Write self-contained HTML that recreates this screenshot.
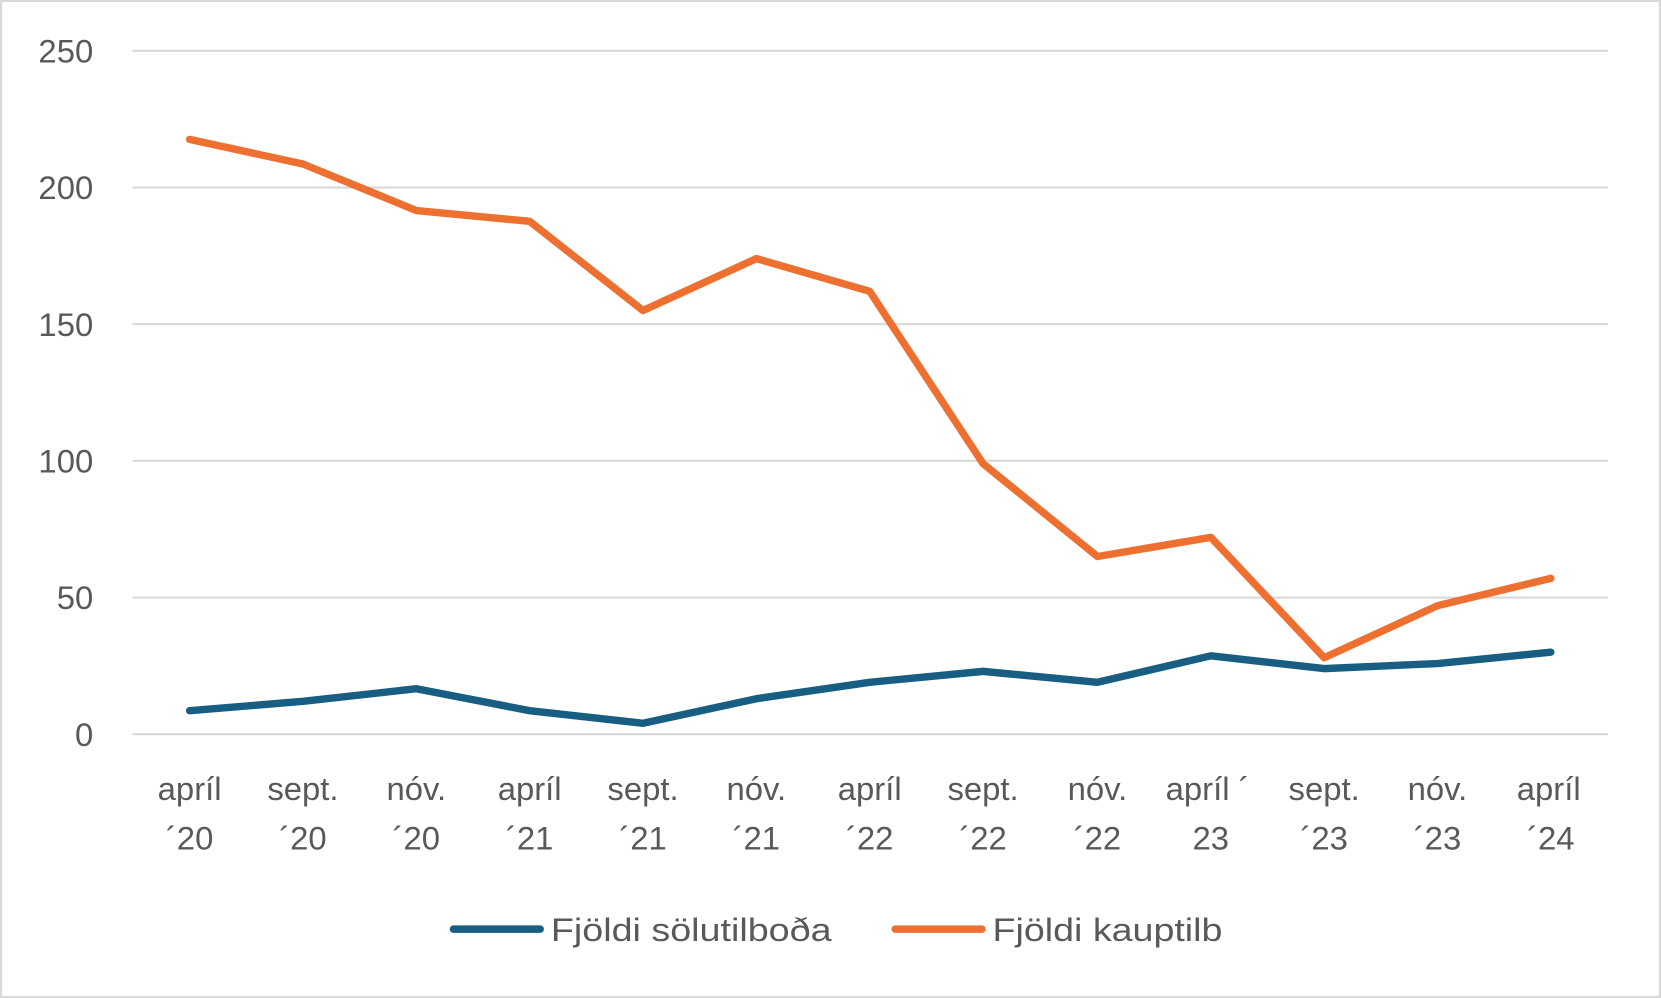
<!DOCTYPE html>
<html><head><meta charset="utf-8"><style>
html,body{margin:0;padding:0;background:#fff;}
svg{display:block;}
text{font-family:"Liberation Sans",sans-serif;fill:#595959;}
</style></head><body>
<svg width="1661" height="998" viewBox="0 0 1568 942" preserveAspectRatio="none">
<rect x="1" y="1" width="1566" height="940" fill="#fff" stroke="#d9d9d9" stroke-width="2"/>
<g stroke="#d9d9d9" stroke-width="2">
<line x1="125" y1="48" x2="1518" y2="48"/>
<line x1="125" y1="177" x2="1518" y2="177"/>
<line x1="125" y1="306" x2="1518" y2="306"/>
<line x1="125" y1="435" x2="1518" y2="435"/>
<line x1="125" y1="564" x2="1518" y2="564"/>
<line x1="125" y1="693" x2="1518" y2="693"/>
</g>
<g font-size="31" text-anchor="end">
<text x="88" y="59">250</text>
<text x="88" y="188">200</text>
<text x="88" y="317">150</text>
<text x="88" y="446">100</text>
<text x="88" y="575">50</text>
<text x="88" y="704">0</text>
</g>
<g font-size="31" text-anchor="middle">
<text x="179" y="755">apríl</text><text x="179" y="802">´20</text>
<text x="286" y="755">sept.</text><text x="286" y="802">´20</text>
<text x="393" y="755">nóv.</text><text x="393" y="802">´20</text>
<text x="500" y="755">apríl</text><text x="500" y="802">´21</text>
<text x="607" y="755">sept.</text><text x="607" y="802">´21</text>
<text x="714" y="755">nóv.</text><text x="714" y="802">´21</text>
<text x="821" y="755">apríl</text><text x="821" y="802">´22</text>
<text x="928" y="755">sept.</text><text x="928" y="802">´22</text>
<text x="1036" y="755">nóv.</text><text x="1036" y="802">´22</text>
<text x="1140" y="755">apríl ´</text><text x="1143" y="802">23</text>
<text x="1250" y="755">sept.</text><text x="1250" y="802">´23</text>
<text x="1357" y="755">nóv.</text><text x="1357" y="802">´23</text>
<text x="1462" y="755">apríl</text><text x="1464" y="802">´24</text>
</g>
<polyline fill="none" stroke="#ed7031" stroke-width="7" stroke-linejoin="round" stroke-linecap="round"
points="179,131.6 286,154.8 393,198.7 500,208.9 607,293.1 714,244.1 821,275.0 928,437.6 1036,525.3 1143,507.2 1250,620.8 1357,571.7 1464,545.9"/>
<polyline fill="none" stroke="#175e82" stroke-width="7" stroke-linejoin="round" stroke-linecap="round"
points="179,670.8 286,662.0 393,650.1 500,670.8 607,682.7 714,659.5 821,644.0 928,633.7 1036,644.0 1143,619.0 1250,631.1 1357,626.3 1464,615.6"/>
<line x1="428" y1="877" x2="510" y2="877" stroke="#175e82" stroke-width="7" stroke-linecap="round"/>
<text x="520" y="888" font-size="31" textLength="265" lengthAdjust="spacingAndGlyphs">Fjöldi sölutilboða</text>
<line x1="845" y1="877" x2="927" y2="877" stroke="#ed7031" stroke-width="7" stroke-linecap="round"/>
<text x="937" y="888" font-size="31" textLength="217" lengthAdjust="spacingAndGlyphs">Fjöldi kauptilb</text>
</svg>
</body></html>
